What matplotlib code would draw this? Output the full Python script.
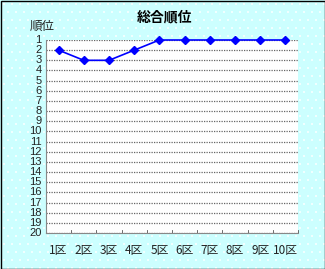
import matplotlib
matplotlib.use("Agg")
import matplotlib.pyplot as plt
import numpy as np

plt.rcParams['font.family'] = ['Noto Sans CJK JP', 'DejaVu Sans']

categories = ['1区', '2区', '3区', '4区', '5区', '6区', '7区', '8区', '9区', '10区']
ranks = [2, 3, 3, 2, 1, 1, 1, 1, 1, 1]
rank_ticks = list(range(1, 21))

W, H = 325, 269
fig = plt.figure(figsize=(W/100, H/100), dpi=100)
fig.patch.set_facecolor('#ccffff')

# dotted background pattern
bg = fig.add_axes([0, 0, 1, 1], zorder=-5)
bg.set_xlim(0, W); bg.set_ylim(H, 0); bg.axis('off')
xs, ys = np.meshgrid(np.arange(4, W, 8), np.arange(4, H, 8))
xs = xs + (ys // 8 % 2) * 4
bg.scatter(xs.ravel(), ys.ravel(), s=0.6, c='#f0ffff', marker='s', linewidths=0)
bg.add_patch(plt.Rectangle((0.5, 0.5), W-1, H-1, fill=False, ec='black', lw=1))

left, right, top, bottom = 46, 298, 40, 233
ax = fig.add_axes([left/W, 1-bottom/H, (right-left)/W, (bottom-top)/H])
ax.set_facecolor('white')
x = np.arange(len(categories))
ax.plot(x, ranks, color='#0000ff', marker='D', markersize=4.5, lw=1.2, clip_on=False, zorder=3)
ax.set_xlim(-0.5, len(categories)-0.5)
ax.set_ylim(20, 1)
ax.set_yticks(rank_ticks)
ax.set_yticklabels([str(v) for v in rank_ticks], fontsize=8, color='#222222',
                   family=['Liberation Sans', 'DejaVu Sans'])
ax.set_xticks(x)
ax.set_xticklabels(categories, fontsize=8.5, color='#222222')
ax.tick_params(axis='x', length=0, pad=8)
ax.tick_params(axis='y', length=0, pad=3)
for b in np.arange(-0.5, len(categories), 1.0):
    ax.plot([b, b], [20, 19.75], color='#555555', lw=0.6, clip_on=False)
ax.yaxis.grid(True, color='#666666', linestyle=(0, (1, 1)), lw=0.9)
ax.set_axisbelow(True)
for s in ['top', 'right']:
    ax.spines[s].set_visible(False)
ax.spines['left'].set_color('#888888')
ax.spines['bottom'].set_color('#888888')
for lab in ax.get_yticklabels():
    lab.set_va('center')

fig.text(165/W, 1-17/H, '総合順位', ha='center', va='center', fontsize=10, fontweight='bold')
fig.text(42/W, 1-26/H, '順位', ha='center', va='center', fontsize=9, color='#222222')

fig.savefig('out.png', dpi=100, facecolor=fig.get_facecolor())
